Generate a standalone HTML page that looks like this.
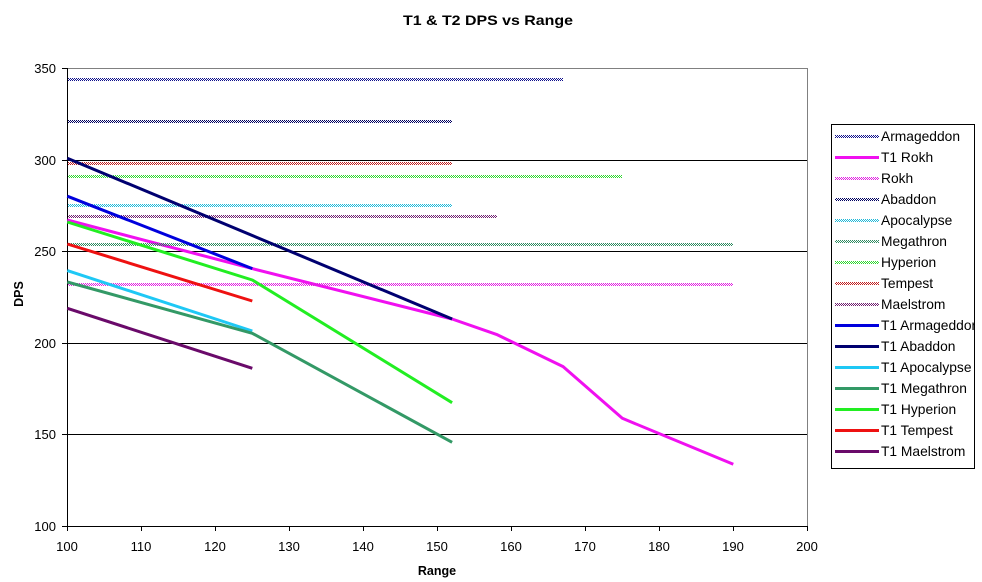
<!DOCTYPE html>
<html><head><meta charset="utf-8"><style>
html,body{margin:0;padding:0;background:#fff;}
svg{display:block;}
text{font-family:"Liberation Sans",Arial,sans-serif;fill:#000;}
</style></head><body>
<svg width="982" height="582" viewBox="0 0 982 582" xmlns="http://www.w3.org/2000/svg" shape-rendering="crispEdges">
<defs>
<pattern id="pArm" width="2" height="2" patternUnits="userSpaceOnUse"><rect x="0" y="0" width="1" height="1" fill="#10108c"/><rect x="1" y="1" width="1" height="1" fill="#10108c"/></pattern>
<pattern id="pAba" width="2" height="2" patternUnits="userSpaceOnUse"><rect x="0" y="0" width="1" height="1" fill="#000060"/><rect x="1" y="1" width="1" height="1" fill="#000060"/></pattern>
<pattern id="pRok" width="2" height="2" patternUnits="userSpaceOnUse"><rect x="0" y="0" width="1" height="1" fill="#e020e0"/><rect x="1" y="1" width="1" height="1" fill="#e020e0"/></pattern>
<pattern id="pApo" width="2" height="2" patternUnits="userSpaceOnUse"><rect x="0" y="0" width="1" height="1" fill="#20b8d8"/><rect x="1" y="1" width="1" height="1" fill="#20b8d8"/></pattern>
<pattern id="pMeg" width="2" height="2" patternUnits="userSpaceOnUse"><rect x="0" y="0" width="1" height="1" fill="#2e8a60"/><rect x="1" y="1" width="1" height="1" fill="#2e8a60"/></pattern>
<pattern id="pHyp" width="2" height="2" patternUnits="userSpaceOnUse"><rect x="0" y="0" width="1" height="1" fill="#30d830"/><rect x="1" y="1" width="1" height="1" fill="#30d830"/></pattern>
<pattern id="pTem" width="2" height="2" patternUnits="userSpaceOnUse"><rect x="0" y="0" width="1" height="1" fill="#c02020"/><rect x="1" y="1" width="1" height="1" fill="#c02020"/></pattern>
<pattern id="pMae" width="2" height="2" patternUnits="userSpaceOnUse"><rect x="0" y="0" width="1" height="1" fill="#702070"/><rect x="1" y="1" width="1" height="1" fill="#702070"/></pattern>
<clipPath id="legclip"><rect x="832" y="125" width="142" height="343"/></clipPath>
</defs>

<!-- Title -->
<text x="488" y="25" font-size="14" font-weight="bold" text-anchor="middle" textLength="170" lengthAdjust="spacingAndGlyphs">T1 &amp; T2 DPS vs Range</text>

<!-- plot border -->
<line x1="67" y1="68.5" x2="807" y2="68.5" stroke="#808080" stroke-width="1"/>
<line x1="807.5" y1="68" x2="807.5" y2="526" stroke="#808080" stroke-width="1"/>

<!-- gridlines -->
<g stroke="#000" stroke-width="1">
<line x1="67" y1="160.5" x2="807" y2="160.5"/>
<line x1="67" y1="251.5" x2="807" y2="251.5"/>
<line x1="67" y1="343.5" x2="807" y2="343.5"/>
<line x1="67" y1="434.5" x2="807" y2="434.5"/>
</g>

<!-- axes -->
<g stroke="#000" stroke-width="1">
<line x1="67.5" y1="68" x2="67.5" y2="527"/>
<line x1="67" y1="526.5" x2="807" y2="526.5"/>
<line x1="62" y1="68.5" x2="67" y2="68.5"/>
<line x1="62" y1="160.5" x2="67" y2="160.5"/>
<line x1="62" y1="251.5" x2="67" y2="251.5"/>
<line x1="62" y1="343.5" x2="67" y2="343.5"/>
<line x1="62" y1="434.5" x2="67" y2="434.5"/>
<line x1="62" y1="526.5" x2="67" y2="526.5"/>
<line x1="67.5" y1="526" x2="67.5" y2="531"/>
<line x1="141.5" y1="526" x2="141.5" y2="531"/>
<line x1="215.5" y1="526" x2="215.5" y2="531"/>
<line x1="289.5" y1="526" x2="289.5" y2="531"/>
<line x1="363.5" y1="526" x2="363.5" y2="531"/>
<line x1="437.5" y1="526" x2="437.5" y2="531"/>
<line x1="511.5" y1="526" x2="511.5" y2="531"/>
<line x1="585.5" y1="526" x2="585.5" y2="531"/>
<line x1="659.5" y1="526" x2="659.5" y2="531"/>
<line x1="733.5" y1="526" x2="733.5" y2="531"/>
<line x1="807.5" y1="526" x2="807.5" y2="531"/>
</g>

<!-- y tick labels -->
<g font-size="13" text-anchor="end">
<text x="56" y="73">350</text>
<text x="56" y="165">300</text>
<text x="56" y="256">250</text>
<text x="56" y="348">200</text>
<text x="56" y="439">150</text>
<text x="56" y="531">100</text>
</g>
<!-- x tick labels -->
<g font-size="13" text-anchor="middle">
<text x="67" y="551">100</text>
<text x="141" y="551">110</text>
<text x="215" y="551">120</text>
<text x="289" y="551">130</text>
<text x="363" y="551">140</text>
<text x="437" y="551">150</text>
<text x="511" y="551">160</text>
<text x="585" y="551">170</text>
<text x="659" y="551">180</text>
<text x="733" y="551">190</text>
<text x="807" y="551">200</text>
</g>

<!-- axis titles -->
<text x="437" y="575" font-size="12.5" font-weight="bold" text-anchor="middle">Range</text>
<text transform="translate(23,294) rotate(-90)" font-size="12.5" font-weight="bold" text-anchor="middle">DPS</text>

<!-- Series in legend order -->
<rect x="68" y="78" width="495" height="3" fill="url(#pArm)"/>
<polyline points="67.3,220 252.3,268.6 452.1,319 496.5,334.4 563.1,366.6 622.3,418.3 733.3,464.3" fill="none" stroke="#f010f0" stroke-width="3" shape-rendering="auto" stroke-linejoin="round"/>
<rect x="68" y="283" width="665" height="3" fill="url(#pRok)"/>
<rect x="68" y="120" width="384" height="3" fill="url(#pAba)"/>
<rect x="68" y="204" width="384" height="3" fill="url(#pApo)"/>
<rect x="68" y="243" width="665" height="3" fill="url(#pMeg)"/>
<rect x="68" y="175" width="554" height="3" fill="url(#pHyp)"/>
<rect x="68" y="162" width="384" height="3" fill="url(#pTem)"/>
<rect x="68" y="215" width="429" height="3" fill="url(#pMae)"/>

<g fill="none" stroke-width="3" shape-rendering="auto" stroke-linejoin="round">
<polyline points="67.3,196.2 252.3,268.6" stroke="#0000dd"/>
<polyline points="67.3,158.2 452.1,319" stroke="#000070"/>
<polyline points="67.3,270.6 252.3,331" stroke="#1ec8f5"/>
<polyline points="67.3,282 252.3,333.3 452.1,442.3" stroke="#339966"/>
<polyline points="67.3,222 252.3,280 452.1,402.7" stroke="#22ee22"/>
<polyline points="67.3,244 252.3,301" stroke="#ee1111"/>
<polyline points="67.3,308.3 252.3,368.3" stroke="#6a0a6a"/>
</g>

<!-- Legend -->
<rect x="831.5" y="124.5" width="143" height="344" fill="#fff" stroke="#000" stroke-width="1"/>
<g>
<rect x="835" y="135" width="44" height="3" fill="url(#pArm)"/>
<rect x="835" y="156" width="44" height="3" fill="#f010f0"/>
<rect x="835" y="177" width="44" height="3" fill="url(#pRok)"/>
<rect x="835" y="198" width="44" height="3" fill="url(#pAba)"/>
<rect x="835" y="219" width="44" height="3" fill="url(#pApo)"/>
<rect x="835" y="240" width="44" height="3" fill="url(#pMeg)"/>
<rect x="835" y="261" width="44" height="3" fill="url(#pHyp)"/>
<rect x="835" y="282" width="44" height="3" fill="url(#pTem)"/>
<rect x="835" y="303" width="44" height="3" fill="url(#pMae)"/>
<rect x="835" y="324" width="44" height="3" fill="#0000dd"/>
<rect x="835" y="345" width="44" height="3" fill="#000070"/>
<rect x="835" y="366" width="44" height="3" fill="#1ec8f5"/>
<rect x="835" y="387" width="44" height="3" fill="#339966"/>
<rect x="835" y="408" width="44" height="3" fill="#22ee22"/>
<rect x="835" y="429" width="44" height="3" fill="#ee1111"/>
<rect x="835" y="450" width="44" height="3" fill="#6a0a6a"/>
</g>
<g font-size="13.8" clip-path="url(#legclip)">
<text x="881" y="141">Armageddon</text>
<text x="881" y="162">T1 Rokh</text>
<text x="881" y="183">Rokh</text>
<text x="881" y="204">Abaddon</text>
<text x="881" y="225">Apocalypse</text>
<text x="881" y="246">Megathron</text>
<text x="881" y="267">Hyperion</text>
<text x="881" y="288">Tempest</text>
<text x="881" y="309">Maelstrom</text>
<text x="881" y="330">T1 Armageddon</text>
<text x="881" y="351">T1 Abaddon</text>
<text x="881" y="372">T1 Apocalypse</text>
<text x="881" y="393">T1 Megathron</text>
<text x="881" y="414">T1 Hyperion</text>
<text x="881" y="435">T1 Tempest</text>
<text x="881" y="456">T1 Maelstrom</text>
</g>
</svg>
</body></html>
